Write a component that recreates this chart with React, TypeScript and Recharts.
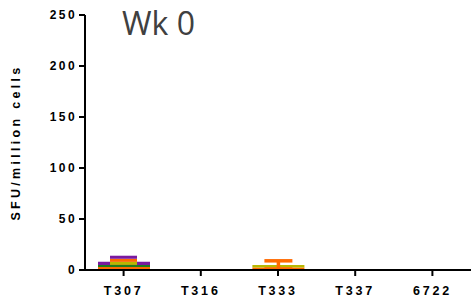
import React from 'react';
import { BarChart, Bar, XAxis, YAxis, ErrorBar, Label } from 'recharts';

const categories = ['T307', 'T316', 'T333', 'T337', '6722'];
const yTicks = [0, 50, 100, 150, 200, 250];

// wide stacked bars (bottom to top)
const wideRed = [0, 0, 1, 0, 0];
const wideOrange = [3, 0, 1.5, 0, 0];
const wideGreen = [2, 0, 0, 0, 0];
const wideOlive = [0, 0, 2.5, 0, 0];
const widePurple = [3, 0, 0, 0, 0];
const wideOliveErr = [0, 0, 4, 0, 0];

// narrow stacked bars drawn on top
const narrowBase = [5, 0, 0, 0, 0];
const narrowOlive = [3, 0, 0, 0, 0];
const narrowOrange = [3, 0, 0, 0, 0];
const narrowPurple = [3, 0, 0, 0, 0];

const data = categories.map((name, i) => ({
  name,
  wRed: wideRed[i],
  wOrange: wideOrange[i],
  wGreen: wideGreen[i],
  wOlive: wideOlive[i],
  wPurple: widePurple[i],
  wOliveErr: wideOliveErr[i],
  nBase: narrowBase[i],
  nOlive: narrowOlive[i],
  nOrange: narrowOrange[i],
  nPurple: narrowPurple[i],
}));

const tickStyle = {
  fontFamily: 'Liberation Sans, Arial, sans-serif',
  fontSize: 12,
  fontWeight: 700,
  fill: '#000',
  letterSpacing: 2.4,
};

const App: React.FC = () => {
  return (
    <div style={{ position: 'absolute', left: 0, top: 0, width: 471, height: 301, background: '#fff' }}>
      <BarChart
        width={471}
        height={301}
        data={data}
        margin={{ top: 15, right: 0, bottom: 6, left: 0 }}
        barGap={0}
      >
        <XAxis
          xAxisId="w"
          dataKey="name"
          axisLine={{ stroke: '#000', strokeWidth: 2 }}
          tickLine={{ stroke: '#000', strokeWidth: 2 }}
          tickSize={6}
          tick={{ ...tickStyle, fontSize: 12.5, letterSpacing: 2.8, dy: 8 }}
          height={25}
          interval={0}
        />
        <XAxis xAxisId="n" dataKey="name" hide height={0} />
        <YAxis
          width={85}
          domain={[0, 250]}
          ticks={yTicks}
          axisLine={{ stroke: '#000', strokeWidth: 2 }}
          tickLine={{ stroke: '#000', strokeWidth: 2 }}
          tickSize={6}
          tick={tickStyle}
          interval={0}
        >
          <Label
            value="SFU/million cells"
            angle={-90}
            position="insideLeft"
            offset={16}
            style={{ ...tickStyle, fontSize: 12.5, letterSpacing: 3.3, textAnchor: 'middle' }}
          />
        </YAxis>
        <Bar xAxisId="w" dataKey="wRed" stackId="w" fill="#ff2a00" barSize={52} isAnimationActive={false} />
        <Bar xAxisId="w" dataKey="wOrange" stackId="w" fill="#ff6a00" barSize={52} isAnimationActive={false} />
        <Bar xAxisId="w" dataKey="wGreen" stackId="w" fill="#1e7d1e" barSize={52} isAnimationActive={false} />
        <Bar xAxisId="w" dataKey="wOlive" stackId="w" fill="#b8b800" barSize={52} isAnimationActive={false}>
          <ErrorBar dataKey="wOliveErr" width={14} strokeWidth={3.5} stroke="#ff6a00" direction="y" />
        </Bar>
        <Bar xAxisId="w" dataKey="wPurple" stackId="w" fill="#7a1aa0" barSize={52} isAnimationActive={false} />
        <Bar xAxisId="n" dataKey="nBase" stackId="n" fill="transparent" barSize={27} isAnimationActive={false} />
        <Bar xAxisId="n" dataKey="nOlive" stackId="n" fill="#b8b800" barSize={27} isAnimationActive={false} />
        <Bar xAxisId="n" dataKey="nOrange" stackId="n" fill="#ff6a00" barSize={27} isAnimationActive={false} />
        <Bar xAxisId="n" dataKey="nPurple" stackId="n" fill="#7a1aa0" barSize={27} isAnimationActive={false} />
      </BarChart>
      <div
        style={{
          position: 'absolute',
          left: 122,
          top: 3,
          fontFamily: 'Open Sans, sans-serif',
          fontSize: 32,
          color: '#404040',
          lineHeight: '40px',
        }}
      >
        Wk 0
      </div>
    </div>
  );
};

export default App;
